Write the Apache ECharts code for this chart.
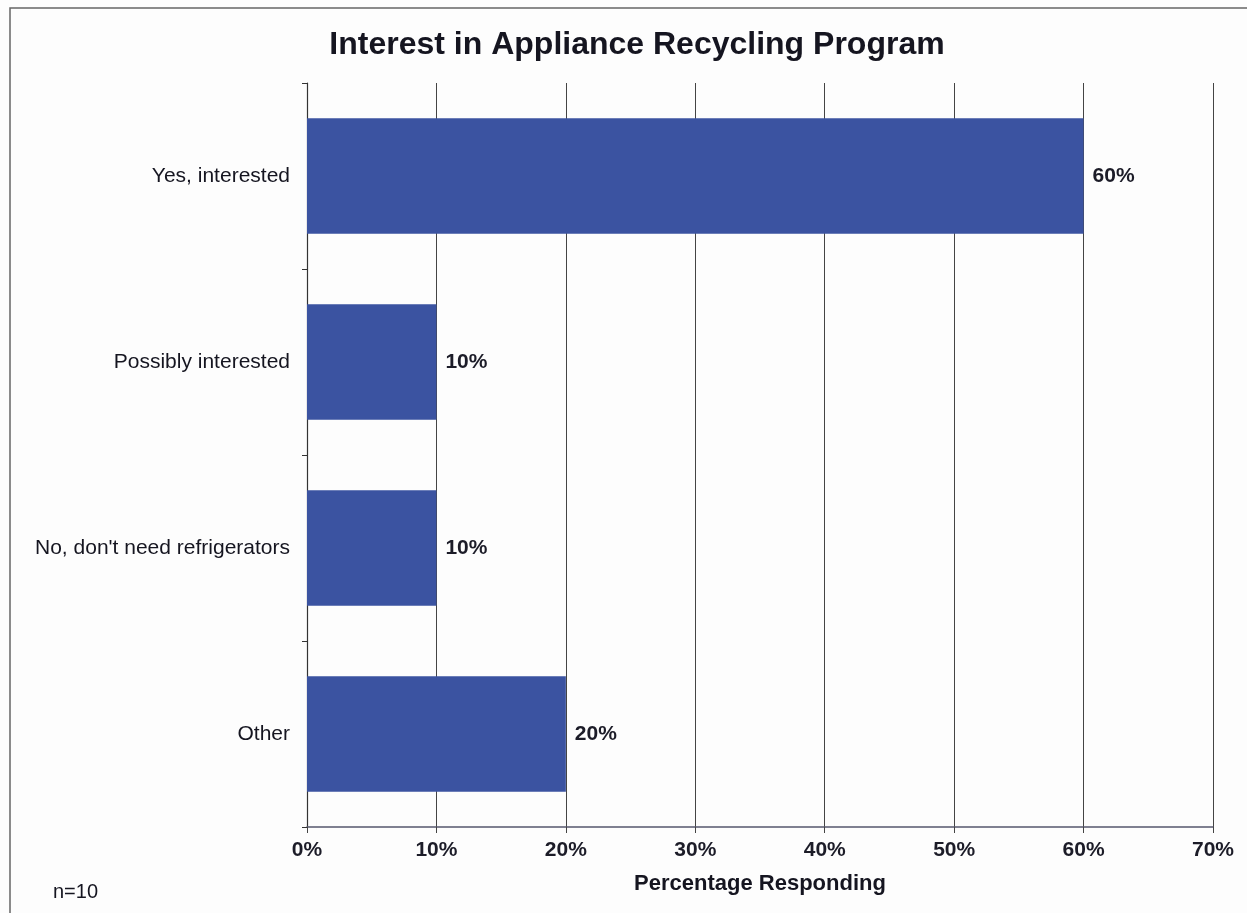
<!DOCTYPE html>
<html>
<head>
<meta charset="utf-8">
<title>Interest in Appliance Recycling Program</title>
<script src="https://cdn.jsdelivr.net/npm/echarts@6/dist/echarts.min.js"></script>
<style>
  html, body { margin: 0; padding: 0; background: #fdfdfd; }
  #chart { width: 1247px; height: 913px; }
</style>
</head>
<body>
<div id="chart"></div>
<script>
// Survey responses (percent of respondents)
const categories = ['Yes, interested', 'Possibly interested', "No, don't need refrigerators", 'Other'];
const percentages = [60, 10, 10, 20];
const xTicks = [0, 10, 20, 30, 40, 50, 60, 70];
const sampleNote = 'n=10';

const chart = echarts.init(document.getElementById('chart'), null, { renderer: 'canvas' });

const font = '"Liberation Sans", Arial, sans-serif';

chart.setOption({
  backgroundColor: '#fdfdfd',
  animation: false,
  title: {
    text: 'Interest in Appliance Recycling Program',
    left: 632,
    top: 24,
    textAlign: 'center',
    textStyle: { fontFamily: font, fontSize: 32, fontWeight: 'bold', color: '#151520' }
  },
  graphic: [
    {
      type: 'rect',
      shape: { x: 10, y: 8, width: 1400, height: 1000 },
      style: { fill: 'none', stroke: '#666', lineWidth: 1.5 },
      silent: true
    },
    {
      type: 'text',
      left: 53,
      top: 882,
      style: { text: sampleNote, fontFamily: font, fontSize: 20, fill: '#151520' }
    }
  ],
  grid: { left: 307, right: 34, top: 83, bottom: 86, containLabel: false },
  xAxis: {
    type: 'value',
    min: xTicks[0],
    max: xTicks[xTicks.length - 1],
    interval: 10,
    name: 'Percentage Responding',
    nameLocation: 'middle',
    nameGap: 46,
    nameTextStyle: { fontFamily: font, fontSize: 22, fontWeight: 'bold', color: '#151520' },
    axisLine: { show: true, lineStyle: { color: '#55576e', width: 1.5 } },
    axisTick: { show: true, length: 6, lineStyle: { color: '#444', width: 1 } },
    axisLabel: {
      fontFamily: font, fontSize: 21, fontWeight: 'bold', color: '#1c1c28', margin: 13,
      formatter: v => v + '%'
    },
    splitLine: { show: true, lineStyle: { color: '#444', width: 1 } }
  },
  yAxis: {
    type: 'category',
    data: categories,
    inverse: true,
    axisLine: { show: true, lineStyle: { color: '#333', width: 1.2 } },
    axisTick: { show: true, length: 5, inside: false, lineStyle: { color: '#333' } },
    axisLabel: { fontFamily: font, fontSize: 21, color: '#151520', margin: 17 },
    splitLine: { show: false }
  },
  series: [{
    type: 'bar',
    data: percentages,
    barCategoryGap: '38%',
    itemStyle: { color: '#3b53a1' },
    label: {
      show: true,
      position: 'right',
      distance: 9,
      fontFamily: font,
      fontSize: 21,
      fontWeight: 'bold',
      color: '#1c1c28',
      formatter: p => p.value + '%'
    }
  }]
});
</script>
</body>
</html>
